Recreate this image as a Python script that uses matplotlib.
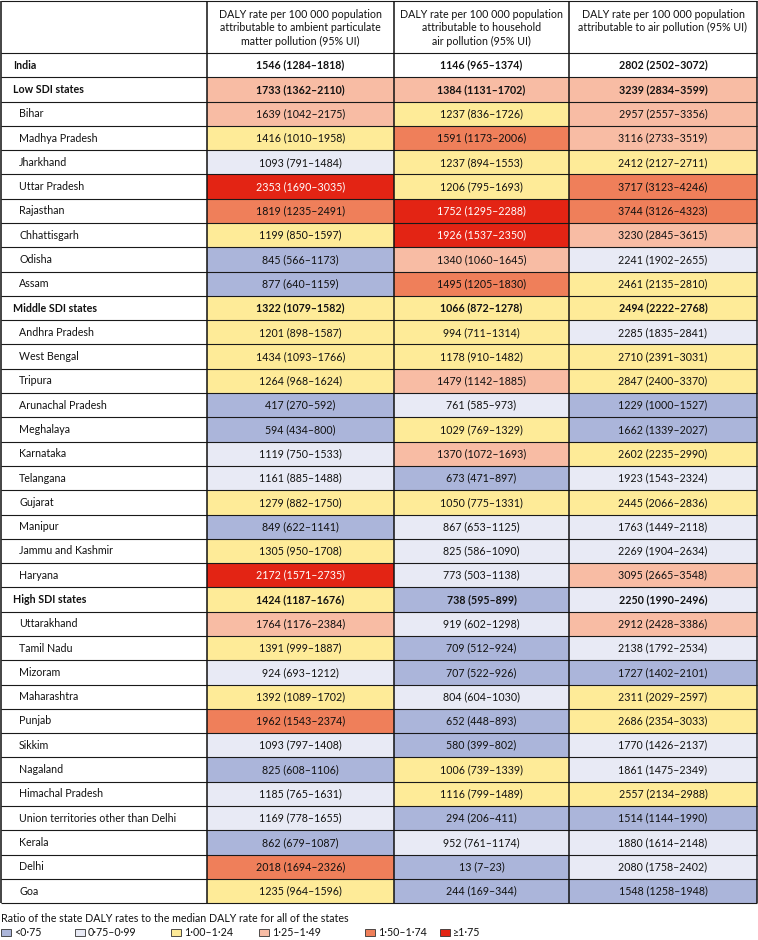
import matplotlib
matplotlib.use("Agg")
import matplotlib.pyplot as plt
from matplotlib.patches import Rectangle

plt.rcParams['font.family'] = ['Lato', 'DejaVu Sans']

# row labels and row type (0 = country, 1 = SDI group, 2 = state)
rows = [
    "India",
    "Low SDI states", "Bihar", "Madhya Pradesh", "Jharkhand", "Uttar Pradesh",
    "Rajasthan", "Chhattisgarh", "Odisha", "Assam",
    "Middle SDI states", "Andhra Pradesh", "West Bengal", "Tripura",
    "Arunachal Pradesh", "Meghalaya", "Karnataka", "Telangana", "Gujarat",
    "Manipur", "Jammu and Kashmir", "Haryana",
    "High SDI states", "Uttarakhand", "Tamil Nadu", "Mizoram", "Maharashtra",
    "Punjab", "Sikkim", "Nagaland", "Himachal Pradesh",
    "Union territories other than Delhi", "Kerala", "Delhi", "Goa",
]
row_kind = [0, 1, 2, 2, 2, 2, 2, 2, 2, 2, 1, 2, 2, 2, 2, 2, 2, 2, 2, 2, 2, 2,
            1, 2, 2, 2, 2, 2, 2, 2, 2, 2, 2, 2, 2]

headers = [
    "DALY rate per 100 000 population\nattributable to ambient particulate\nmatter pollution (95% UI)",
    "DALY rate per 100 000 population\nattributable to household\nair pollution (95% UI)",
    "DALY rate per 100 000 population\nattributable to air pollution (95% UI)",
]

# (rate, lower UI, upper UI)
ambient = [
    (1546, 1284, 1818), (1733, 1362, 2110), (1639, 1042, 2175), (1416, 1010, 1958),
    (1093, 791, 1484), (2353, 1690, 3035), (1819, 1235, 2491), (1199, 850, 1597),
    (845, 566, 1173), (877, 640, 1159), (1322, 1079, 1582), (1201, 898, 1587),
    (1434, 1093, 1766), (1264, 968, 1624), (417, 270, 592), (594, 434, 800),
    (1119, 750, 1533), (1161, 885, 1488), (1279, 882, 1750), (849, 622, 1141),
    (1305, 950, 1708), (2172, 1571, 2735), (1424, 1187, 1676), (1764, 1176, 2384),
    (1391, 999, 1887), (924, 693, 1212), (1392, 1089, 1702), (1962, 1543, 2374),
    (1093, 797, 1408), (825, 608, 1106), (1185, 765, 1631), (1169, 778, 1655),
    (862, 679, 1087), (2018, 1694, 2326), (1235, 964, 1596),
]
household = [
    (1146, 965, 1374), (1384, 1131, 1702), (1237, 836, 1726), (1591, 1173, 2006),
    (1237, 894, 1553), (1206, 795, 1693), (1752, 1295, 2288), (1926, 1537, 2350),
    (1340, 1060, 1645), (1495, 1205, 1830), (1066, 872, 1278), (994, 711, 1314),
    (1178, 910, 1482), (1479, 1142, 1885), (761, 585, 973), (1029, 769, 1329),
    (1370, 1072, 1693), (673, 471, 897), (1050, 775, 1331), (867, 653, 1125),
    (825, 586, 1090), (773, 503, 1138), (738, 595, 899), (919, 602, 1298),
    (709, 512, 924), (707, 522, 926), (804, 604, 1030), (652, 448, 893),
    (580, 399, 802), (1006, 739, 1339), (1116, 799, 1489), (294, 206, 411),
    (952, 761, 1174), (13, 7, 23), (244, 169, 344),
]
total = [
    (2802, 2502, 3072), (3239, 2834, 3599), (2957, 2557, 3356), (3116, 2733, 3519),
    (2412, 2127, 2711), (3717, 3123, 4246), (3744, 3126, 4323), (3230, 2845, 3615),
    (2241, 1902, 2655), (2461, 2135, 2810), (2494, 2222, 2768), (2285, 1835, 2841),
    (2710, 2391, 3031), (2847, 2400, 3370), (1229, 1000, 1527), (1662, 1339, 2027),
    (2602, 2235, 2990), (1923, 1543, 2324), (2445, 2066, 2836), (1763, 1449, 2118),
    (2269, 1904, 2634), (3095, 2665, 3548), (2250, 1990, 2496), (2912, 2428, 3386),
    (2138, 1792, 2534), (1727, 1402, 2101), (2311, 2029, 2597), (2686, 2354, 3033),
    (1770, 1426, 2137), (1861, 1475, 2349), (2557, 2134, 2988), (1514, 1144, 1990),
    (1880, 1614, 2148), (2080, 1758, 2402), (1548, 1258, 1948),
]

# ratio class per cell (-1 = not shaded)
ambient_cls = [-1, 3, 3, 2, 1, 5, 4, 2, 0, 0, 2, 2, 2, 2, 0, 0, 1, 1, 2, 0, 2, 5,
               2, 3, 2, 1, 2, 4, 1, 0, 1, 1, 0, 4, 2]
household_cls = [-1, 3, 2, 4, 2, 2, 5, 5, 3, 4, 2, 2, 2, 3, 1, 2, 3, 0, 2, 1, 1, 1,
                 0, 1, 0, 0, 1, 0, 0, 2, 2, 0, 1, 0, 0]
total_cls = [-1, 3, 3, 3, 2, 4, 4, 3, 1, 2, 2, 1, 2, 2, 0, 0, 2, 1, 2, 1, 1, 3,
             1, 3, 1, 0, 2, 2, 1, 1, 2, 0, 1, 1, 0]

legend_labels = ["<0·75", "0·75–0·99", "1·00–1·24", "1·25–1·49", "1·50–1·74", "≥1·75"]
class_colors = ["#abb5da", "#e8eaf5", "#feeb98", "#f8bca4", "#ef7f5a", "#e32414"]

W, H = 758, 940
fig = plt.figure(figsize=(W / 100, H / 100), dpi=100)
ax = fig.add_axes([0, 0, 1, 1])
ax.set_xlim(0, W)
ax.set_ylim(H, 0)
ax.axis("off")

col_x = [1, 207, 394, 569, 757]
top, head_h, row_h = 1, 52, 24.29
fs = 7.7

for c, head in enumerate(headers):
    xc = (col_x[c + 1] + col_x[c + 2]) / 2
    ax.text(xc, top + 8, head, ha="center", va="top", fontsize=fs,
            linespacing=1.25, color="#111111")

for i, name in enumerate(rows):
    y0 = top + head_h + i * row_h
    yc = y0 + row_h / 2
    kind = row_kind[i]
    bold = "bold" if kind < 2 else "normal"
    ax.text(13 if kind < 2 else 19, yc, name, ha="left", va="center",
            fontsize=fs, fontweight=bold, color="#111111")
    for c, (vals, cls) in enumerate([(ambient, ambient_cls),
                                     (household, household_cls),
                                     (total, total_cls)]):
        x0, x1 = col_x[c + 1], col_x[c + 2]
        k = cls[i]
        if k >= 0:
            ax.add_patch(Rectangle((x0, y0), x1 - x0, row_h,
                                   facecolor=class_colors[k], edgecolor="none"))
        v, lo, hi = vals[i]
        ax.text((x0 + x1) / 2, yc, f"{v} ({lo}–{hi})", ha="center", va="center",
                fontsize=fs, fontweight=bold,
                color="white" if k == 5 else "#111111")

bottom = top + head_h + len(rows) * row_h
# grid lines
for i in range(len(rows) + 2):
    y = top if i == 0 else top + head_h + (i - 1) * row_h
    ax.plot([col_x[0], col_x[-1]], [y, y], color="#1a1a1a", lw=0.8,
            solid_capstyle="butt")
for x in col_x:
    ax.plot([x, x], [top, bottom], color="#111111", lw=1.1,
            solid_capstyle="butt")

# legend
ax.text(1, 919, "Ratio of the state DALY rates to the median DALY rate for all of the states",
        ha="left", va="center", fontsize=fs, color="#111111")
leg_x = [1, 75, 171, 259, 365, 440]
for k, lab in enumerate(legend_labels):
    ax.add_patch(Rectangle((leg_x[k], 929), 10, 6.5, facecolor=class_colors[k],
                           edgecolor="#333333", lw=0.6))
    ax.text(leg_x[k] + 13, 932.5, lab, ha="left", va="center", fontsize=fs,
            color="#111111")

fig.savefig("out.png", dpi=100)
